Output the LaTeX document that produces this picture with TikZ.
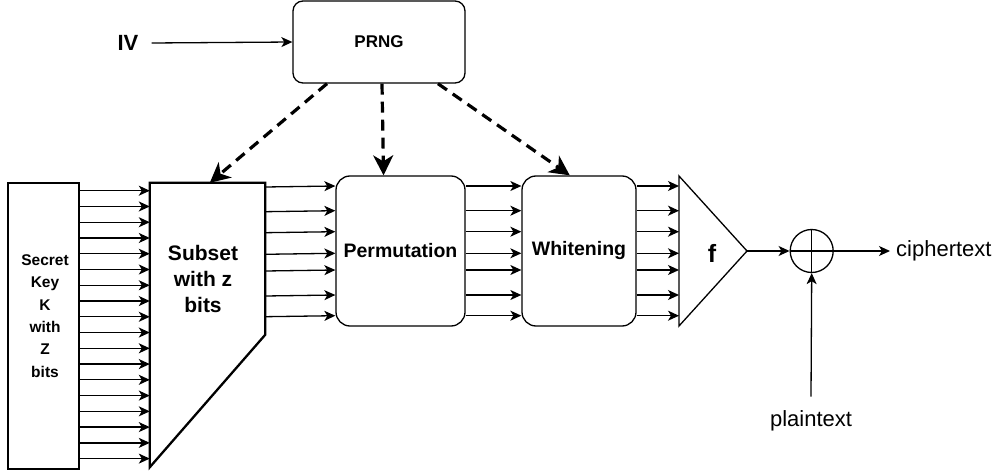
\documentclass[tikz,border=0pt]{standalone}
\usepackage{fontspec}
\setmainfont{Liberation Sans}
\usetikzlibrary{arrows.meta,calc}

\begin{document}
\begin{tikzpicture}[x=1pt,y=-1pt,
  box/.style={draw,line width=1.3pt,rounded corners=14pt,inner sep=0},
  bit/.style={line width=1.3pt,-{Stealth[length=11pt,width=10pt,inset=3pt]}},
  rnd/.style={line width=3.2pt,dash pattern=on 11pt off 7pt,-{Stealth[length=20pt,width=20pt,inset=6pt]}},
  lbl/.style={align=center,inner sep=0}]
\useasboundingbox (0,0) rectangle (1006,473);
% generator and its input
\node[box,rounded corners=10pt,minimum width=172pt,minimum height=82pt,font=\fontsize{17}{20}\selectfont\bfseries] (prng) at (379,42) {PRNG};
\node[lbl,font=\fontsize{22}{26}\selectfont\bfseries] (iv) at (128,43) {IV};
\draw[bit] ([xshift=13pt]iv.east) -- (prng.west);
% key and subset
\node[draw,line width=1.3pt,minimum width=71pt,minimum height=286pt] (key) at (43.5,326) {};
\node[lbl,font=\fontsize{15.5}{22.3}\selectfont\bfseries] (keytxt) at (45,316) {Secret\\Key\\K\\with\\Z\\bits};
\node[minimum width=115pt,minimum height=284pt,inner sep=0] (sub) at (207.5,325) {};
\draw[line width=2.3pt,line join=miter] (sub.north west) -- (sub.north east)
  -- ([yshift=-152pt]sub.north east) -- (sub.south west) -- cycle;
\node[lbl,font=\fontsize{21}{26}\selectfont\bfseries] (subtxt) at (203,279) {Subset\\with z\\bits};
\foreach \i [evaluate=\i as \y using 190.7+15.76*\i] in {0,...,17}
  {\draw[bit] (key.east |- 0,\y) -- (sub.west |- 0,\y);}
% permutation, whitening, f
\node[box,minimum width=129pt,minimum height=150pt,font=\fontsize{19.5}{23}\selectfont\bfseries] (perm) at (400.5,251) {Permutation};
\node[box,minimum width=114pt,minimum height=150pt,font=\fontsize{19.5}{23}\selectfont\bfseries] (white) at (579,251) {Whitening};
\coordinate (ftop) at (679,176);
\coordinate (fbot) at (679,326);
\coordinate (fapex) at (747,251);
\draw[line width=1.3pt,line join=miter] (ftop) -- (fapex) -- (fbot) -- cycle;
\node[lbl,font=\fontsize{25}{30}\selectfont\bfseries] (f) at (712,253) {f};
\foreach \y in {186,210.7,231.7,253.3,270,295,315.7}
  {\draw[bit] ([yshift=-1pt]sub.east |- 0,\y) -- (perm.west |- 0,\y);
   \draw[bit] (perm.east |- 0,\y) -- (white.west |- 0,\y);
   \draw[bit] (white.east |- 0,\y) -- (ftop |- 0,\y);}
% random control from the generator
\draw[rnd] ($(prng.south west)!0.2!(prng.south east)$) -- ($(sub.north west)!0.52!(sub.north east)$);
\draw[rnd] ([xshift=3pt]prng.south) -- ($(perm.north west)!0.37!(perm.north east)$);
\draw[rnd] ($(prng.south west)!0.84!(prng.south east)$) -- ($(white.north west)!0.42!(white.north east)$);
% output mixing
\node[draw,circle,line width=1.3pt,minimum size=43pt,inner sep=0] (xor) at (811.7,251) {};
\draw[line width=1.3pt] (xor.north) -- (xor.south) (xor.west) -- (xor.east);
\draw[bit] (fapex) -- (xor.west);
\node[lbl,anchor=west,font=\fontsize{22}{26}\selectfont] (ct) at (896,251) {ciphertext};
\draw[bit] (xor.east) -- ([xshift=-6pt]ct.west);
\node[lbl,font=\fontsize{22}{26}\selectfont] (pt) at (811,421) {plaintext};
\draw[bit] ([yshift=14pt]pt.north) -- (xor.south);
\end{tikzpicture}
\end{document}
